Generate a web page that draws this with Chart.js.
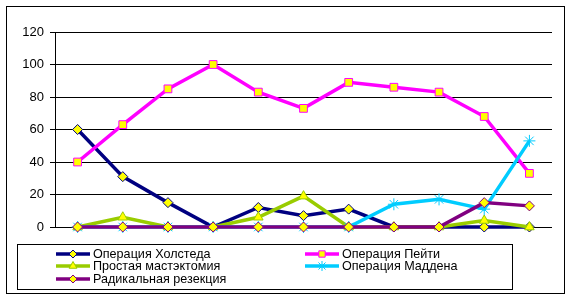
<!DOCTYPE html>
<html>
<head>
<meta charset="utf-8">
<script src="https://cdn.jsdelivr.net/npm/chart.js"></script>
<style>
  body { margin: 0; background: #fff; }
  #wrap { width: 571px; height: 299px; }
</style>
</head>
<body>
<div id="wrap"><canvas id="chart" width="571" height="299"></canvas></div>
<script>
const categories = ['1', '2', '3', '4', '5', '6', '7', '8', '9', '10', '11'];
const seriesNames = ['Операция Холстеда', 'Операция Пейти', 'Простая мастэктомия', 'Операция Маддена', 'Радикальная резекция'];
const holsted = [60, 31, 15, 0, 12, 7, 11, 0, 0, 0, 0];
const peyti = [40, 63, 85, 100, 83, 73, 89, 86, 83, 68, 33];
const mastectomy = [0, 6, 0, 0, 6, 19, 0, 0, 0, 4, 0];
const madden = [0, 0, 0, 0, 0, 0, 0, 14, 17, 11, 53];
const radical = [0, 0, 0, 0, 0, 0, 0, 0, 0, 15, 13];
const yTicks = [0, 20, 40, 60, 80, 100, 120];

const lineColors = ['#000080', '#FF00FF', '#99CC00', '#00CCFF', '#800080'];
const markerStyles = ['rectRot', 'rect', 'triangle', 'star', 'rectRot'];
const markerFills = ['#FFFF00', '#FFFF00', '#FFFF00', '#00CCFF', '#FFFF00'];
const markerSizes = [5, 5.5, 5.5, 6, 5];
const allSeries = [holsted, peyti, mastectomy, madden, radical];

const datasets = allSeries.map((data, i) => ({
  label: seriesNames[i],
  data: data,
  borderColor: lineColors[i],
  backgroundColor: markerFills[i],
  borderWidth: 3.5,
  pointStyle: markerStyles[i],
  pointRadius: markerSizes[i],
  pointBorderColor: lineColors[i],
  pointBackgroundColor: markerFills[i],
  pointBorderWidth: 1,
  tension: 0,
  clip: false,
  order: allSeries.length - i
}));

// frame + white background, legend drawn by hand in two columns
const framePlugin = {
  id: 'frame',
  beforeDraw(chart) {
    const ctx = chart.ctx;
    ctx.save();
    ctx.fillStyle = '#fff';
    ctx.fillRect(0, 0, chart.width, chart.height);
    ctx.strokeStyle = '#000';
    ctx.lineWidth = 1;
    ctx.strokeRect(6.5, 6.5, 558, 287);
    ctx.restore();
  },
  afterDraw(chart) {
    const ctx = chart.ctx;
    ctx.save();
    ctx.strokeStyle = '#000';
    ctx.lineWidth = 1;
    ctx.strokeRect(17.5, 244.5, 495, 45);

    const slots = [
      { x: 56, y: 254 }, { x: 305, y: 254 },
      { x: 56, y: 266 }, { x: 305, y: 266 },
      { x: 56, y: 279 }
    ];
    ctx.font = '12.6px "Liberation Sans", Arial, sans-serif';
    ctx.textBaseline = 'middle';
    ctx.textAlign = 'left';
    seriesNames.forEach((name, i) => {
      const s = slots[i];
      ctx.strokeStyle = lineColors[i];
      ctx.lineWidth = 3.5;
      ctx.beginPath();
      ctx.moveTo(s.x, s.y);
      ctx.lineTo(s.x + 34, s.y);
      ctx.stroke();
      ctx.fillStyle = markerFills[i];
      ctx.strokeStyle = lineColors[i];
      ctx.lineWidth = 1;
      Chart.helpers.drawPoint(ctx, {
        pointStyle: markerStyles[i],
        radius: markerSizes[i] - 1,
        rotation: 0,
        borderWidth: 1
      }, s.x + 17, s.y);
      ctx.fillStyle = '#000';
      ctx.fillText(name, s.x + 37, s.y + 1);
    });
    ctx.restore();
  }
};

new Chart(document.getElementById('chart'), {
  type: 'line',
  data: { labels: categories, datasets: datasets },
  options: {
    responsive: false,
    animation: false,
    layout: { padding: { left: 0, right: 19, top: 32, bottom: 72 } },
    plugins: {
      legend: { display: false },
      tooltip: { enabled: false }
    },
    scales: {
      x: {
        display: false,
        offset: true
      },
      y: {
        min: 0,
        max: 120,
        afterFit(scale) { scale.width = 55; },
        afterBuildTicks(scale) { scale.ticks = yTicks.map(v => ({ value: v })); },
        ticks: {
          color: '#000',
          padding: 6,
          font: { family: '"Liberation Sans", Arial, sans-serif', size: 13 }
        },
        grid: { color: '#000', lineWidth: 1, tickLength: 5, drawTicks: true },
        border: { display: true, color: '#000', width: 1 }
      }
    }
  },
  plugins: [framePlugin]
});
</script>
</body>
</html>
